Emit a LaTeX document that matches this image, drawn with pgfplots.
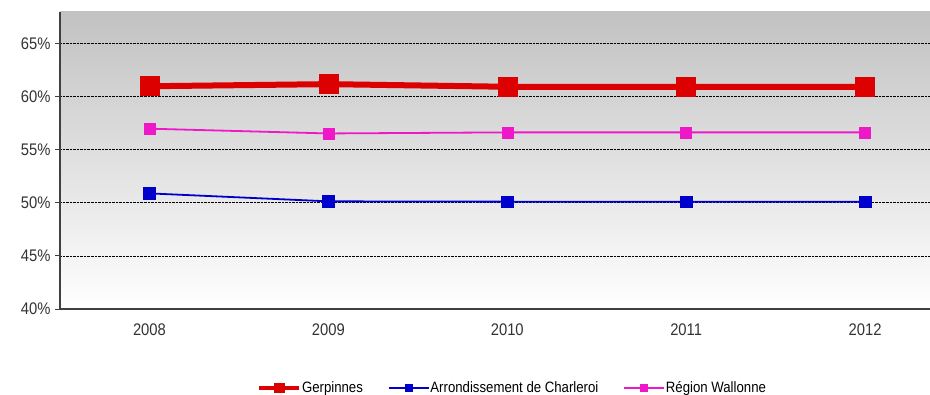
\documentclass[border=0pt]{standalone}
\usepackage{pgfplots}
\pgfplotsset{compat=1.18}
\usepackage{fontspec}
\setmainfont{Liberation Sans}
\newfontfamily\condensed[FakeStretch=0.88]{Liberation Sans}
\definecolor{cred}{HTML}{DD0000}
\definecolor{cblue}{HTML}{0000CC}
\definecolor{cpink}{HTML}{EE18C8}
\definecolor{axgray}{HTML}{404040}
\definecolor{txtgray}{HTML}{333333}
\begin{document}
\begin{tikzpicture}
\useasboundingbox (0bp,0bp) rectangle (930bp,395bp);
\begin{axis}[
  at={(60bp,86bp)}, anchor=south west,
  scale only axis, width=870bp, height=297bp,
  xmin=0.5, xmax=5.363, ymin=40, ymax=68,
  axis lines=left,
  axis line style={-, draw=axgray, line width=1.1bp},
  axis background/.style={top color=black!24, bottom color=white},
  xtick={1,2,3,4,5},
  xticklabels={2008,2009,2010,2011,2012},
  x tick label style={yshift=-6bp},
  xtick style={draw=none},
  extra x ticks={0.5,1.5,2.5,3.5,4.5},
  extra x tick labels={},
  extra x tick style={tick style={draw=axgray, line width=1bp}, major tick length=5bp, tick align=outside, xmajorgrids=false},
  ytick={40,45,...,65},
  yticklabel={\pgfmathprintnumber{\tick}\%},
  y tick label style={xshift=-1bp},
  ytick style={draw=axgray, line width=1bp},
  major tick length=5bp, tick align=outside,
  ymajorgrids,
  grid style={black, densely dotted, line width=0.9bp},
  tick label style={font=\condensed\fontsize{16.8bp}{18bp}\selectfont, text=txtgray},
  /pgf/number format/assume math mode=true,
  clip=false,
  legend columns=3,
  legend style={draw=none, fill=none, at={(0.520,-0.266)}, anchor=center,
    font=\condensed\fontsize{15bp}{17bp}\selectfont, text=black,
    nodes={inner sep=1bp},
    /tikz/every even column/.append style={column sep=24bp}},
  legend image code/.code={\draw[mark repeat=2,mark phase=2] plot coordinates {(0bp,0bp) (20bp,0bp) (40bp,0bp)};},
]
\addplot[forget plot, cred, line width=6bp, mark=square*, mark size=9.5bp, mark options={line width=0.5bp, solid}]
  coordinates {(1,61.0) (2,61.2) (3,60.95) (4,60.95) (5,60.95)};
\addplot[forget plot, cpink, line width=1.8bp, mark=square*, mark size=5.5bp, mark options={line width=0.5bp}]
  coordinates {(1,57.0) (2,56.55) (3,56.65) (4,56.65) (5,56.65)};
\addplot[forget plot, cblue, line width=1.8bp, mark=square*, mark size=5.8bp, mark options={line width=0.5bp}]
  coordinates {(1,50.9) (2,50.15) (3,50.12) (4,50.12) (5,50.12)};
\addlegendimage{cred, line width=3.2bp, mark=square*, mark size=3.5bp}
\addlegendentry{Gerpinnes}
\addlegendimage{cblue, line width=1.5bp, mark=square*, mark size=3.2bp}
\addlegendentry{Arrondissement de Charleroi}
\addlegendimage{cpink, line width=1.5bp, mark=square*, mark size=3.2bp}
\addlegendentry{Région Wallonne}
\end{axis}
\end{tikzpicture}
\end{document}
